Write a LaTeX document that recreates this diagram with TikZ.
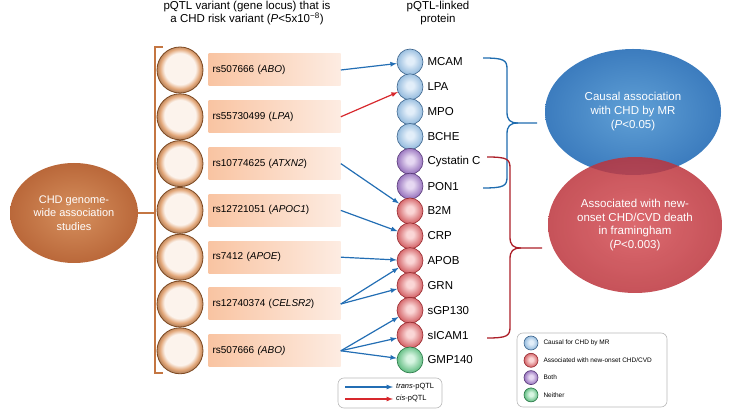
\documentclass[tikz,border=0pt]{standalone}
\usepackage{fontspec}
\setmainfont{Liberation Sans}
\usepackage{tikz}
\usetikzlibrary{shapes,arrows,positioning,fit}
\definecolor{varin}{RGB}{252, 243, 236}
\definecolor{varout}{RGB}{226, 166, 120}
\definecolor{varedge}{RGB}{125, 72, 32}
\definecolor{snpleft}{RGB}{249, 196, 162}
\definecolor{snpright}{RGB}{253, 236, 226}
\definecolor{bluein}{RGB}{226, 238, 249}
\definecolor{blueout}{RGB}{150, 188, 222}
\definecolor{bluedge}{RGB}{60, 100, 140}
\definecolor{redin}{RGB}{250, 214, 214}
\definecolor{redout}{RGB}{212, 100, 104}
\definecolor{redge}{RGB}{150, 40, 45}
\definecolor{purin}{RGB}{230, 216, 242}
\definecolor{purout}{RGB}{152, 116, 190}
\definecolor{puredge}{RGB}{88, 58, 120}
\definecolor{grnin}{RGB}{216, 245, 226}
\definecolor{grnout}{RGB}{100, 190, 132}
\definecolor{grnedge}{RGB}{38, 118, 68}
\definecolor{transblue}{RGB}{35, 110, 180}
\definecolor{cisred}{RGB}{215, 40, 45}
\definecolor{bracebrown}{RGB}{196, 118, 66}
\definecolor{braceblue}{RGB}{30, 108, 175}
\definecolor{bracered}{RGB}{172, 30, 40}
\definecolor{gwasin}{RGB}{214, 144, 94}
\definecolor{gwasout}{RGB}{186, 104, 58}
\definecolor{ovalbluein}{RGB}{96, 160, 214}
\definecolor{ovalblueout}{RGB}{60, 124, 190}
\definecolor{ovalredin}{RGB}{214, 80, 86}
\definecolor{ovalredout}{RGB}{188, 52, 60}
\pgfdeclareradialshading{varball}{\pgfpoint{0bp}{2bp}}{color(0bp)=(varin); color(17bp)=(varin); color(22bp)=(varout); color(25bp)=(varout!80!black); color(50bp)=(varout!80!black)}
\pgfdeclareradialshading{blueball}{\pgfpoint{0bp}{3bp}}{color(0bp)=(bluein); color(7bp)=(bluein); color(25bp)=(blueout); color(50bp)=(blueout)}
\pgfdeclareradialshading{redball}{\pgfpoint{0bp}{3bp}}{color(0bp)=(redin); color(7bp)=(redin); color(25bp)=(redout); color(50bp)=(redout)}
\pgfdeclareradialshading{purball}{\pgfpoint{0bp}{3bp}}{color(0bp)=(purin); color(7bp)=(purin); color(25bp)=(purout); color(50bp)=(purout)}
\pgfdeclareradialshading{grnball}{\pgfpoint{0bp}{3bp}}{color(0bp)=(grnin); color(7bp)=(grnin); color(25bp)=(grnout); color(50bp)=(grnout)}
\tikzstyle{variant} = [circle, draw=varedge, line width=0.8pt, shading=varball, minimum size=46pt, inner sep=0pt]
\tikzstyle{snp} = [rectangle, left color=snpleft, right color=snpright, minimum height=32pt, text width=124pt, inner sep=4pt, align=left, font=\fontsize{10}{12}\selectfont]
\tikzstyle{prot} = [circle, line width=0.6pt, minimum size=26pt, inner sep=0pt]
\tikzstyle{protcausal} = [prot, draw=bluedge, shading=blueball]
\tikzstyle{protassoc} = [prot, draw=redge, shading=redball]
\tikzstyle{protboth} = [prot, draw=puredge, shading=purball]
\tikzstyle{protneither} = [prot, draw=grnedge, shading=grnball]
\tikzstyle{plabel} = [inner sep=0pt, font=\fontsize{11.5}{13}\selectfont]
\tikzstyle{headtext} = [align=center, inner sep=0pt, font=\fontsize{11.5}{13.5}\selectfont]
\tikzstyle{oval} = [ellipse, text=white, align=center, inner sep=0pt]
\tikzstyle{transedge} = [draw=transblue, line width=1.2pt, >=latex, ->]
\tikzstyle{cisedge} = [draw=cisred, line width=1.2pt, >=latex, ->]
\tikzstyle{bracket} = [line width=1.3pt]
\tikzstyle{legbox} = [draw=gray!55, line width=0.6pt, rounded corners=6pt, fill=white]
\tikzstyle{legtext} = [inner sep=0pt, font=\fontsize{6.5}{8}\selectfont]

\begin{document}
\begin{tikzpicture}[x=1pt, y=1pt]
\useasboundingbox (0,0) rectangle (730,409);

% headers =============================
\node[headtext] (hvar) at (247,396) {pQTL variant (gene locus) that is\\a CHD risk variant (\textit{P}<5x10\textsuperscript{−8})};
\node[headtext] (hprot) at (438,396) {pQTL-linked\\protein};

% gwas and variants
\node[oval, minimum width=128pt, minimum height=100pt, inner color=gwasin, outer color=gwasout, font=\fontsize{11}{13.5}\selectfont] (gwas) at (74,196) {CHD genome-\\wide association\\studies};

\node[variant] (v1) at (180,339) {};
\node[variant, below=0pt of v1] (v2) {};
\node[variant, below=0pt of v2] (v3) {};
\node[variant, below=0pt of v3] (v4) {};
\node[variant, below=0pt of v4] (v5) {};
\node[variant, below=0pt of v5] (v6) {};
\node[variant, below=0pt of v6] (v7) {};

\node[snp, right=5pt of v1] (r1) {rs507666 (\textit{ABO})};
\node[snp, right=5pt of v2] (r2) {rs55730499 (\textit{LPA})};
\node[snp, right=5pt of v3] (r3) {rs10774625 (\textit{ATXN2})};
\node[snp, right=5pt of v4] (r4) {rs12721051 (\textit{APOC1})};
\node[snp, right=5pt of v5] (r5) {rs7412 (\textit{APOE})};
\node[snp, right=5pt of v6] (r6) {rs12740374 (\textit{CELSR2})};
\node[snp, right=5pt of v7] (r7) {rs507666 \textit{(ABO)}};

% left bracket
\coordinate (bltop) at (163,362);
\coordinate (blbot) at (163,36);
\draw[bracket, draw=bracebrown] (bltop) -- ++(-8,0) |- (blbot);
\draw[bracket, draw=bracebrown] (gwas.east) -- (gwas.east -| 155,0);

% proteins =============================
\node[protcausal] (mcam) at (410,347) {};
\node[protcausal, below=-1.77pt of mcam] (lpa) {};
\node[protcausal, below=-1.77pt of lpa] (mpo) {};
\node[protcausal, below=-1.77pt of mpo] (bche) {};
\node[protboth, below=-1.77pt of bche] (cysc) {};
\node[protboth, below=-1.77pt of cysc] (pon) {};
\node[protassoc, below=-1.77pt of pon] (btwom) {};
\node[protassoc, below=-1.77pt of btwom] (crp) {};
\node[protassoc, below=-1.77pt of crp] (apob) {};
\node[protassoc, below=-1.77pt of apob] (grn) {};
\node[protassoc, below=-1.77pt of grn] (sgp) {};
\node[protassoc, below=-1.77pt of sgp] (sicam) {};
\node[protneither, below=-1.77pt of sicam] (gmp) {};

\node[plabel, right=4pt of mcam] (lmcam) {MCAM};
\node[plabel, right=4pt of lpa] (llpa) {LPA};
\node[plabel, right=4pt of mpo] (lmpo) {MPO};
\node[plabel, right=4pt of bche] (lbche) {BCHE};
\node[plabel, right=4pt of cysc] (lcysc) {Cystatin C};
\node[plabel, right=4pt of pon] (lpon) {PON1};
\node[plabel, right=4pt of btwom] (lbtwom) {B2M};
\node[plabel, right=4pt of crp] (lcrp) {CRP};
\node[plabel, right=4pt of apob] (lapob) {APOB};
\node[plabel, right=4pt of grn] (lgrn) {GRN};
\node[plabel, right=4pt of sgp] (lsgp) {sGP130};
\node[plabel, right=4pt of sicam] (lsicam) {sICAM1};
\node[plabel, right=4pt of gmp] (lgmp) {GMP140};

%edges
\path[transedge] (r1.east) -- (mcam);
\path[cisedge] (r2.east) -- (lpa);
\path[transedge] (r3.east) -- (btwom);
\path[transedge] (r4.east) -- (crp);
\path[transedge] (r5.east) -- (apob);
\path[transedge] (r6.east) -- (apob);
\path[transedge] (r6.east) -- (grn);
\path[transedge] (r7.east) -- (sgp);
\path[transedge] (r7.east) -- (sicam);
\path[transedge] (r7.east) -- (gmp);

% ovals
\node[oval, minimum width=176pt, minimum height=126pt, inner color=ovalbluein, outer color=ovalblueout, font=\fontsize{11.5}{14}\selectfont] (causal) at (633,297) {Causal association\\with CHD by MR\\(\textit{P}<0.05)};
\node[oval, minimum width=174pt, minimum height=136pt, inner color=ovalredin, outer color=ovalredout, fill opacity=0.85, text opacity=1, font=\fontsize{11.5}{13.5}\selectfont] (assoc) at (635,184) {Associated with new-\\onset CHD/CVD death\\in framingham\\(\textit{P}<0.003)};

% right brackets
\draw[bracket, draw=braceblue] (483,351) .. controls (504,351) and (507,349) .. (507,340) -- (507,297) .. controls (507,289) and (510,286) .. (518,286) -- (537,286);
\draw[bracket, draw=braceblue] (483,221) .. controls (504,221) and (507,223) .. (507,232) -- (507,275) .. controls (507,283) and (510,286) .. (518,286);
\draw[bracket, draw=bracered] (487,252) .. controls (507,252) and (510,250) .. (510,241) -- (510,172) .. controls (510,164) and (513,161) .. (521,161) -- (542,161);
\draw[bracket, draw=bracered] (487,71) .. controls (507,71) and (510,73) .. (510,82) -- (510,150) .. controls (510,158) and (513,161) .. (521,161);

% legend arrows
\node[legbox, minimum width=104pt, minimum height=30pt] (legarrows) at (390,16) {};
\coordinate (ta) at (345,22);
\coordinate (tb) at (393,22);
\coordinate (ca) at (345,10);
\coordinate (cb) at (393,10);
\path[transedge] (ta) -- (tb);
\path[cisedge] (ca) -- (cb);
\node[legtext, font=\fontsize{7.5}{9}\selectfont, right=3pt of tb] (ltrans) {\textit{trans}-pQTL};
\node[legtext, font=\fontsize{7.5}{9}\selectfont, right=3pt of cb] (lcis) {\textit{cis}-pQTL};

% legend colours
\node[legbox, minimum width=150pt, minimum height=74pt] (legcolors) at (592,39) {};
\node[protcausal, minimum size=14pt] (kcausal) at (531,66) {};
\node[protassoc, minimum size=14pt, below=2.7pt of kcausal] (kassoc) {};
\node[protboth, minimum size=14pt, below=2.7pt of kassoc] (kboth) {};
\node[protneither, minimum size=14pt, below=2.7pt of kboth] (kneither) {};
\node[legtext, right=5pt of kcausal] (lkcausal) {Causal for CHD by MR};
\node[legtext, right=5pt of kassoc] (lkassoc) {Associated with new-onset CHD/CVD};
\node[legtext, right=5pt of kboth] (lkboth) {Both};
\node[legtext, right=5pt of kneither] (lkneither) {Neither};

\end{tikzpicture}
\end{document}
